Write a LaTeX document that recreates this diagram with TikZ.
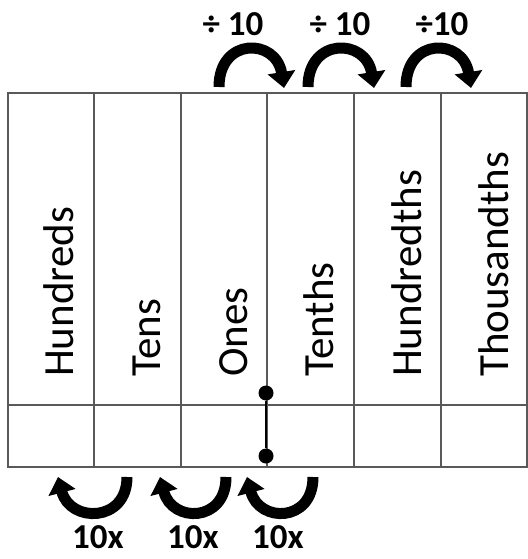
\documentclass[tikz,border=0pt]{standalone}
\usepackage{fontspec}
\setmainfont{Carlito}
\usetikzlibrary{arrows.meta}

\begin{document}
\begin{tikzpicture}[x=1pt,y=-1pt]
      \tikzset{
      grid/.style = {line width=1.6pt,black!65},
      place/.style = {rotate=90,anchor=base west,inner sep=0pt,
        font=\fontsize{43}{43}\selectfont},
      jump/.style = {line width=11pt,-{Triangle[width=27pt,length=16pt]}},
      factor/.style = {inner sep=0pt,font=\bfseries\fontsize{35}{35}\selectfont},
      point/.style = {circle,fill,minimum size=15pt,inner sep=0pt} }
      \useasboundingbox (0,0) rectangle (527,559);

      \draw[grid] (8,93) rectangle (527,467);
      \draw[grid] (8,405) -- (527,405);
      \draw[grid] (94,93) -- (94,467);
      \draw[grid] (181,93) -- (181,467);
      \draw[grid] (267,93) -- (267,467);
      \draw[grid] (354,93) -- (354,467);
      \draw[grid] (441,93) -- (441,467);

      \node[place] (Hundreds) at (73,377) {Hundreds};
      \node[place] (Tens) at (160,377) {Tens};
      \node[place] (Ones) at (247,377) {Ones};
      \node[place] (Tenths) at (333,377) {Tenths};
      \node[place] (Hundredths) at (421,377) {Hundredths};
      \node[place] (Thousandths) at (508,377) {Thousandths};

      % decimal point
      \node[point] (p1) at (266,393) {};
      \node[point] (p2) at (266,456) {};
      \draw[line width=1.4pt] (p1) -- (p2);

      % divide by ten
      \node[factor] (d1) at (233,24) {÷ 10};
      \node[factor] (d2) at (340,24) {÷ 10};
      \node[factor] (d3) at (442,24) {÷10};
      \coordinate (a1) at (219,87);
      \coordinate (b1) at (284,88);
      \coordinate (a2) at (308,87);
      \coordinate (b2) at (374,88);
      \coordinate (a3) at (406,87);
      \coordinate (b3) at (471,88);
      \draw[jump] (a1) .. controls +(0,-50) and +(-8,-50) .. (b1);
      \draw[jump] (a2) .. controls +(0,-50) and +(-8,-50) .. (b2);
      \draw[jump] (a3) .. controls +(0,-50) and +(-8,-50) .. (b3);

      % times ten
      \node[factor] (m1) at (98,537) {10x};
      \node[factor] (m2) at (193,537) {10x};
      \node[factor] (m3) at (278,537) {10x};
      \coordinate (c1) at (127,477);
      \coordinate (e1) at (58,477);
      \coordinate (c2) at (226,477);
      \coordinate (e2) at (160,477);
      \coordinate (c3) at (313,477);
      \coordinate (e3) at (247,477);
      \draw[jump] (c1) .. controls +(0,46) and +(12,46) .. (e1);
      \draw[jump] (c2) .. controls +(0,46) and +(12,46) .. (e2);
      \draw[jump] (c3) .. controls +(0,46) and +(12,46) .. (e3);
\end{tikzpicture}
\end{document}
